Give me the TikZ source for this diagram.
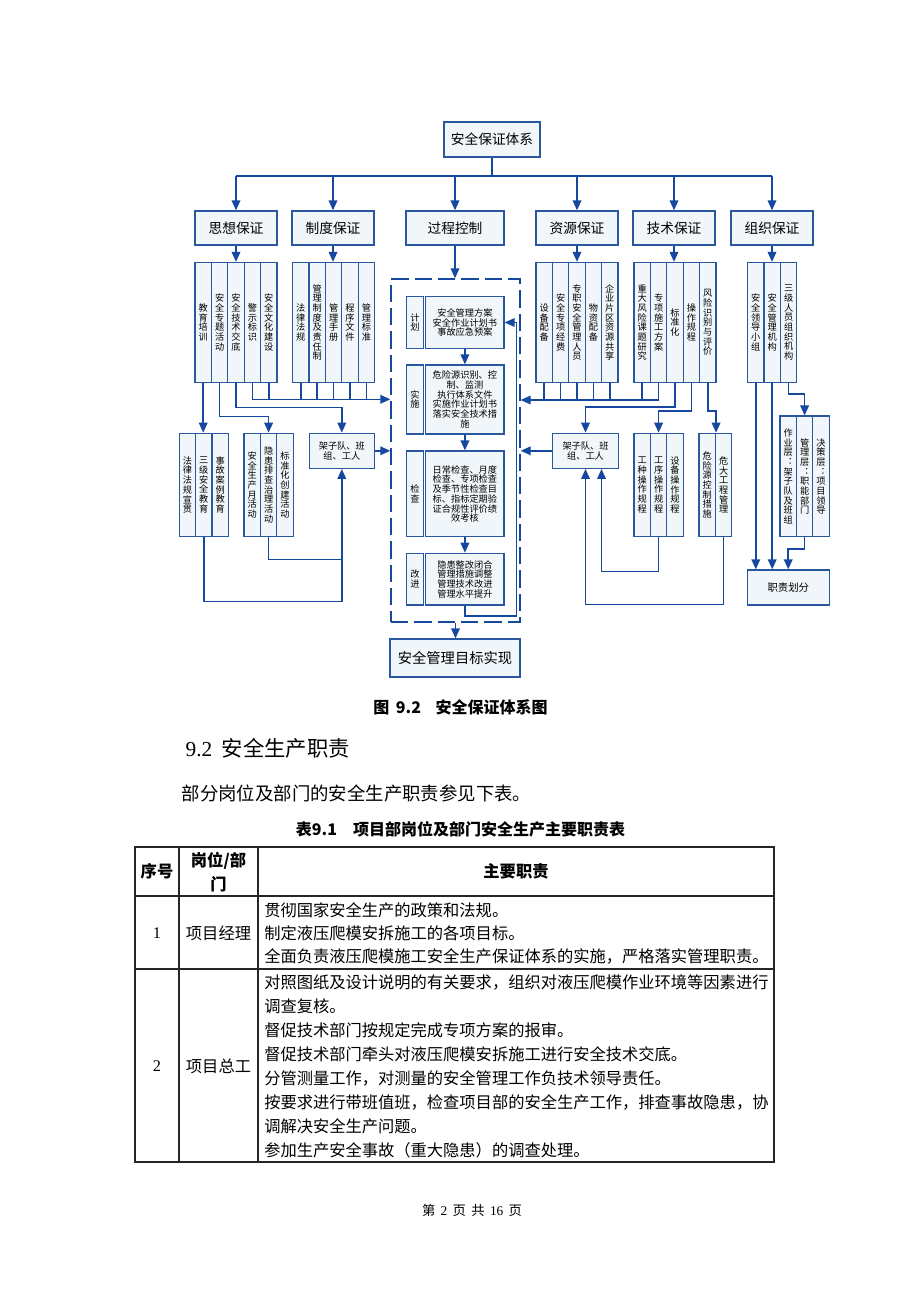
\documentclass[tikz,border=0pt]{standalone}
\usepackage{fontspec}
\setmainfont{Noto Sans CJK SC}
\newfontfamily\serifnum{Liberation Serif}
\usepackage{tikz}
\usetikzlibrary{arrows.meta}

\definecolor{lineblue}{RGB}{22,72,160}
\definecolor{boxline}{RGB}{42,88,160}
\definecolor{boxfill}{RGB}{240,246,249}

% stack the characters of a column label
\makeatletter
\newcommand\vcol[1]{\gdef\vc@sep{}\@tfor\vc@ch:=#1\do{\vc@sep\vc@ch\gdef\vc@sep{\\}}}
\makeatother

\tikzset{
  conn/.style={draw=lineblue, line width=1.1pt},
  arr/.style={conn, -{Triangle[length=7.5pt,width=6.5pt]}},
  box/.style={draw=boxline, fill=boxfill, line width=1pt, inner sep=0pt, align=center},
  head/.style={box, font=\fontsize{10.3}{11}\selectfont},
  col/.style={box, font=\fontsize{6.9}{7.25}\selectfont, text width=7.6pt, minimum width=12.3pt, minimum height=90pt},
  low/.style={col, minimum height=77.5pt},
  procbox/.style={box, font=\fontsize{6.9}{7.3}\selectfont},
  sz/.style 2 args={minimum width=#1*0.75pt, minimum height=#2*0.75pt},
  dashframe/.style={draw=lineblue, line width=1.1pt, dash pattern=on 13pt off 4.5pt, inner sep=0pt},
  cell/.style={font=\fontsize{12.2}{18}\selectfont, inner sep=0pt},
  tabline/.style={draw=black!85, line width=0.9pt},
}

\begin{document}
\begin{tikzpicture}[x=0.75pt, y=-0.75pt]
\fill[white] (0,0) rectangle (920,1302);
\useasboundingbox (0,0) rectangle (920,1302);

% top level
\node[head, sz={96}{35}] (tixi) at (492,139.5) {安全保证体系};
\node[head, sz={82}{34}] (sixiang) at (236,228) {思想保证};
\node[head, sz={82}{34}] (zhidu) at (333,228) {制度保证};
\node[head, sz={98}{34}] (guocheng) at (455,228) {过程控制};
\node[head, sz={82}{34}] (ziyuan) at (577,228) {资源保证};
\node[head, sz={82}{34}] (jishu) at (674,228) {技术保证};
\node[head, sz={82}{34}] (zuzhi) at (772,228) {组织保证};

\draw[conn] (tixi.south) -- (tixi.south |- 0,176);
\draw[conn] (sixiang.north |- 0,176) -- (zuzhi.north |- 0,176);
\draw[arr] (sixiang.north |- 0,176) -- (sixiang.north);
\draw[arr] (zhidu.north |- 0,176) -- (zhidu.north);
\draw[arr] (guocheng.north |- 0,176) -- (guocheng.north);
\draw[arr] (ziyuan.north |- 0,176) -- (ziyuan.north);
\draw[arr] (jishu.north |- 0,176) -- (jishu.north);
\draw[arr] (zuzhi.north |- 0,176) -- (zuzhi.north);

% columns under each guarantee
\node[col] (sx1) at (203.2,322.5) {\vcol{教育培训}};
\node[col] (sx2) at (219.6,322.5) {\vcol{安全专题活动}};
\node[col] (sx3) at (236.0,322.5) {\vcol{安全技术交底}};
\node[col] (sx4) at (252.4,322.5) {\vcol{警示标识}};
\node[col] (sx5) at (268.8,322.5) {\vcol{安全文化建设}};

\node[col] (zd1) at (300.8,322.5) {\vcol{法律法规}};
\node[col] (zd2) at (317.2,322.5) {\vcol{管理制度及责任制}};
\node[col] (zd3) at (333.6,322.5) {\vcol{管理手册}};
\node[col] (zd4) at (350.0,322.5) {\vcol{程序文件}};
\node[col] (zd5) at (366.4,322.5) {\vcol{管理标准}};

\node[col] (zy1) at (544.2,322.5) {\vcol{设备配备}};
\node[col] (zy2) at (560.6,322.5) {\vcol{安全专项经费}};
\node[col] (zy3) at (577.0,322.5) {\vcol{专职安全管理人员}};
\node[col] (zy4) at (593.4,322.5) {\vcol{物资配备}};
\node[col] (zy5) at (609.8,322.5) {\vcol{企业片区资源共享}};

\node[col] (js1) at (642.2,322.5) {\vcol{重大风险课题研究}};
\node[col] (js2) at (658.6,322.5) {\vcol{专项施工方案}};
\node[col] (js3) at (675.0,322.5) {\vcol{标准化}};
\node[col] (js4) at (691.4,322.5) {\vcol{操作规程}};
\node[col] (js5) at (707.8,322.5) {\vcol{风险识别与评价}};

\node[col] (zz1) at (755.8,322.5) {\vcol{安全领导小组}};
\node[col] (zz2) at (772.2,322.5) {\vcol{安全管理机构}};
\node[col] (zz3) at (788.6,322.5) {\vcol{三级人员组织机构}};

\draw[arr] (sixiang.south) -- (sixiang.south |- sx3.north);
\draw[arr] (zhidu.south) -- (zhidu.south |- zd3.north);
\draw[arr] (ziyuan.south) -- (ziyuan.south |- zy3.north);
\draw[arr] (jishu.south) -- (jishu.south |- js3.north);
\draw[arr] (zuzhi.south) -- (zuzhi.south |- zz2.north);

% process control
\node[dashframe, sz={129}{343}] (pdca) at (455.5,450.5) {};
\draw[arr] (guocheng.south) -- (guocheng.south |- pdca.north);

\node[procbox, sz={16.6}{51.6}] (jhl) at (415,322.5) {计\\划};
\node[procbox, sz={78.3}{51.6}] (jht) at (464.9,322.5) {安全管理方案\\安全作业计划书\\事故应急预案};
\node[procbox, sz={16.6}{69}] (ssl) at (415,399.5) {实\\施};
\node[procbox, sz={78.3}{69}] (sst) at (464.9,399.5) {危险源识别、控\\制、监测\\执行体系文件\\实施作业计划书\\落实安全技术措\\施};
\node[procbox, sz={16.6}{85.7}] (jcl) at (415,493.9) {检\\查};
\node[procbox, sz={78.3}{85.7}] (jct) at (464.9,493.9) {日常检查、月度\\检查、专项检查\\及季节性检查目\\标、指标定期验\\证合规性评价绩\\效考核};
\node[procbox, sz={16.6}{51.7}] (gjl) at (415,579.2) {改\\进};
\node[procbox, sz={78.3}{51.7}] (gjt) at (464.9,579.2) {隐患整改闭合\\管理措施调整\\管理技术改进\\管理水平提升};

\draw[arr] (jht.south) -- (sst.north);
\draw[arr] (sst.south) -- (jct.north);
\draw[arr] (jct.south) -- (gjt.north);
\coordinate (back) at (516.7,616);
\draw[arr] (gjt.south) |- (back) |- (jht.east);

\node[head, sz={130}{38}, font=\fontsize{10.7}{11}\selectfont] (mubiao) at (455,658) {安全管理目标实现};
\draw[arr] (pdca.south) -- (pdca.south |- mubiao.north);

% left branch
\node[low] (fl1) at (187.4,485) {\vcol{法律法规宣贯}};
\node[low] (fl2) at (203.8,485) {\vcol{三级安全教育}};
\node[low] (fl3) at (220.2,485) {\vcol{事故案例教育}};
\node[low] (yh1) at (252.2,485) {\vcol{安全生产月活动}};
\node[low] (yh2) at (268.6,485) {\vcol{隐患排查治理活动}};
\node[low] (yh3) at (285.0,485) {\vcol{标准化创建活动}};
\node[procbox, sz={65}{35}] (jzl) at (341.8,450.8) {架子队、班\\组、工人};

\draw[arr] (sx1.south) -- (sx1.south |- fl2.north);
\draw[arr] (sx2.south) -- ++(0,33.4) -| (yh2.north);
\draw[arr] (sx3.south) -- ++(0,24.4) -| (jzl.north);
\draw[arr] (sx4.south) |- (pdca.west |- 0,399.3);
\draw[conn] (sx5.south) -- (sx5.south |- 0,399.3);
\draw[conn] (zd1.south) -- (zd1.south |- 0,399.3);
\draw[conn] (zd2.south) -- (zd2.south |- 0,399.3);
\draw[conn] (zd3.south) -- (zd3.south |- 0,399.3);
\draw[conn] (zd4.south) -- (zd4.south |- 0,399.3);
\draw[conn] (zd5.south) -- (zd5.south |- 0,399.3);
\draw[arr] (jzl.east) -- (pdca.west |- jzl.east);
\draw[arr] (yh2.south) -- ++(0,22.3) -| (jzl.south);
\draw[conn] (fl2.south) |- (jzl.south |- 0,601.7) -- (jzl.south |- 0,559.3);

% right branch
\node[procbox, sz={65.6}{35}] (jzr) at (585.5,450.8) {架子队、班\\组、工人};
\node[low] (gz1) at (642.2,485) {\vcol{工种操作规程}};
\node[low] (gz2) at (658.6,485) {\vcol{工序操作规程}};
\node[low] (gz3) at (675.0,485) {\vcol{设备操作规程}};
\node[low] (wx1) at (707.2,485) {\vcol{危险源控制措施}};
\node[low] (wx2) at (723.6,485) {\vcol{危大工程管理}};

\draw[arr] (js2.south) |- (pdca.east |- 0,400);
\draw[conn] (js1.south) -- (js1.south |- 0,400);
\draw[conn] (zy1.south) -- (zy1.south |- 0,400);
\draw[conn] (zy2.south) -- (zy2.south |- 0,400);
\draw[conn] (zy3.south) -- (zy3.south |- 0,400);
\draw[conn] (zy4.south) -- (zy4.south |- 0,400);
\draw[conn] (zy5.south) -- (zy5.south |- 0,400);
\draw[arr] (js3.south) -- ++(0,23.7) -| (jzr.north);
\draw[arr] (js4.south) -- ++(0,27.7) -| (gz2.north);
\draw[arr] (js5.south) -- ++(0,27.7) -| (wx1.north east);
\draw[arr] (jzr.west) -- (pdca.east |- jzr.west);
\draw[arr] (gz2.south) -- ++(0,34) -| ([xshift=12pt]jzr.south);
\draw[arr] (wx2.south) -- ++(0,67.3) -| (jzr.south);

% organisation branch
\node[col, minimum height=90.5pt] (cj1) at (788.2,476.4) {\vcol{作业层︓架子队及班组}};
\node[col, minimum height=90.5pt] (cj2) at (804.6,476.4) {\vcol{管理层︓职能部门}};
\node[col, minimum height=90.5pt] (cj3) at (821.0,476.4) {\vcol{决策层︓项目领导}};
\node[procbox, sz={82}{35}, font=\fontsize{7.8}{8}\selectfont] (zhize) at (788.3,587.5) {职责划分};

\draw[arr] (zz1.south) -- (zz1.south |- zhize.north);
\draw[arr] (zz2.south) -- (zz2.south |- zhize.north);
\draw[arr] (zz3.south) -- ++(0,11) -| (cj2.north);
\draw[arr] (cj2.south) -- ++(0,11.6) -| (cj1.south |- zhize.north);

% text under the chart
\node[font=\bfseries\fontsize{12}{12}\selectfont] (caption) at (460.5,707) {图\hspace{5pt}9.2\hspace{11pt}安全保证体系图};
\node[anchor=west, font=\fontsize{16}{17}\selectfont] (sec) at (181,748) {{\serifnum 9.2}\hspace{7pt}安全生产职责};
\node[anchor=west, font=\fontsize{13.8}{14}\selectfont] (intro) at (177,793) {部分岗位及部门的安全生产职责参见下表。};
\node[font=\bfseries\fontsize{12}{12}\selectfont] (tabcap) at (460.5,829) {表9.1\hspace{12pt}项目部岗位及部门安全生产主要职责表};

% table
\draw[tabline] (135,847) rectangle (774,1162);
\draw[tabline] (135,896) -- (774,896);
\draw[tabline] (135,969) -- (774,969);
\draw[tabline] (179,847) -- (179,1162);
\draw[tabline] (258,847) -- (258,1162);

\node[cell, font=\bfseries\fontsize{12.2}{18}\selectfont] (hno) at (157,871) {序号};
\node[cell, font=\bfseries\fontsize{12.2}{18}\selectfont, align=center] (hpost) at (218.5,872) {岗位/部\\门};
\node[cell, font=\bfseries\fontsize{12.2}{18}\selectfont] (hduty) at (516,871) {主要职责};

\node[cell] (no1) at (157,933) {\serifnum 1};
\node[cell] (post1) at (218.5,933) {项目经理};
\node[cell, anchor=west] (d11) at (264,910) {贯彻国家安全生产的政策和法规。};
\node[cell, anchor=west] (d12) at (264,933) {制定液压爬模安拆施工的各项目标。};
\node[cell, anchor=west] (d13) at (264,956) {全面负责液压爬模施工安全生产保证体系的实施，严格落实管理职责。};

\node[cell] (no2) at (157,1066) {\serifnum 2};
\node[cell] (post2) at (218.5,1066) {项目总工};
\node[cell, anchor=west] (d21) at (264,982) {对照图纸及设计说明的有关要求，组织对液压爬模作业环境等因素进行};
\node[cell, anchor=west] (d22) at (264,1006) {调查复核。};
\node[cell, anchor=west] (d23) at (264,1030) {督促技术部门按规定完成专项方案的报审。};
\node[cell, anchor=west] (d24) at (264,1054) {督促技术部门牵头对液压爬模安拆施工进行安全技术交底。};
\node[cell, anchor=west] (d25) at (264,1078) {分管测量工作，对测量的安全管理工作负技术领导责任。};
\node[cell, anchor=west] (d26) at (264,1102) {按要求进行带班值班，检查项目部的安全生产工作，排查事故隐患，协};
\node[cell, anchor=west] (d27) at (264,1126) {调解决安全生产问题。};
\node[cell, anchor=west] (d28) at (264,1150) {参加生产安全事故（重大隐患）的调查处理。};

\node[font=\fontsize{10}{10}\selectfont] (foot) at (472,1210) {第\hspace{4pt}{\serifnum 2}\hspace{4pt}页\hspace{4pt}共\hspace{4pt}{\serifnum 16}\hspace{4pt}页};
\end{tikzpicture}
\end{document}
